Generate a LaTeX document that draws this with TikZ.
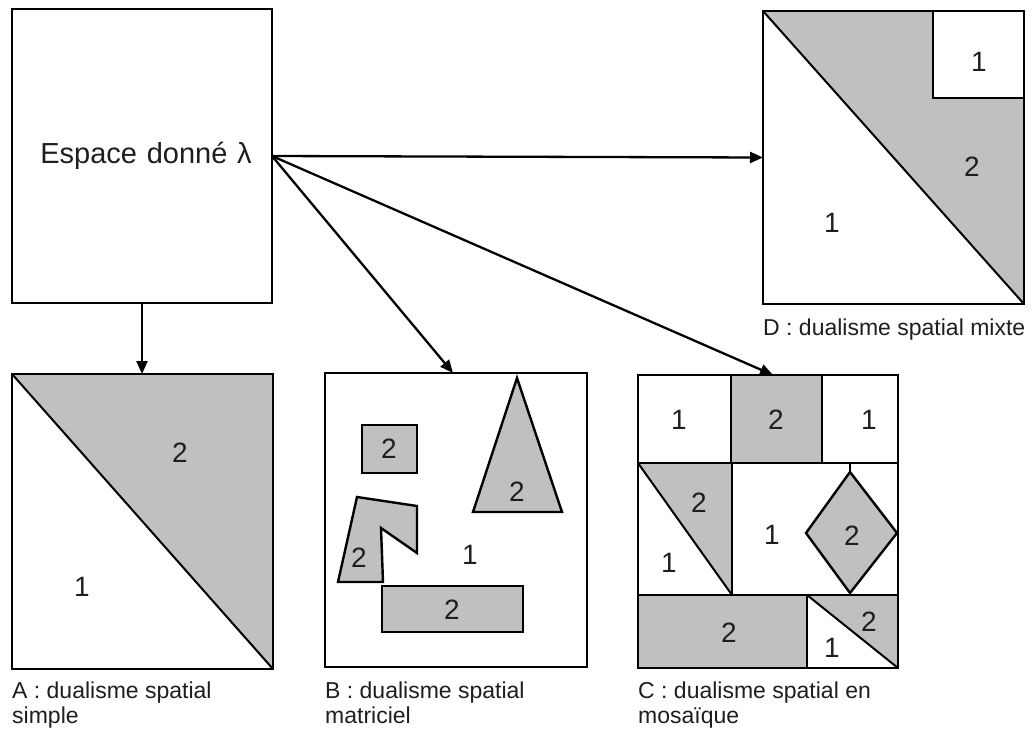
\documentclass[tikz,border=0pt]{standalone}
\usepackage{fontspec}
\setmainfont{Liberation Sans}
\usetikzlibrary{arrows.meta}
\definecolor{zgrey}{RGB}{192,192,192}
\definecolor{txt}{RGB}{30,30,30}
\begin{document}
\begin{tikzpicture}[x=1pt,y=-1pt,
 frame/.style={draw=black,line width=2.8pt,inner sep=0pt,outer sep=0pt},
 piece/.style={draw=black,line width=2.4pt,line join=miter},
 thinline/.style={draw=black,line width=2pt},
 zone/.style={fill=zgrey},
 num/.style={font=\fontsize{28}{28}\selectfont,text=txt,inner sep=0pt},
 legend/.style={font=\fontsize{23}{25}\selectfont,text=txt,anchor=north west,align=left,inner sep=0pt},
 link/.style={line width=2.3pt,-{Triangle[length=13pt,width=11pt]}}]
\useasboundingbox (0,0) rectangle (1034,729);

% source box
\node[frame,minimum width=260pt,minimum height=294pt,font=\fontsize{29}{29}\selectfont,text=txt,text width=250pt,align=center] (main) at (142,156) {\hspace*{8pt}Espace donné λ};

% ---------- Panel A ----------
\fill[zone] (12,374) -- (273,374) -- (273,669) -- cycle;
\draw[thinline] (12,374) -- (273,669);
\node[frame,minimum width=261pt,minimum height=295pt] (pA) at (142.5,521.5) {};
\node[num] (a2) at (180,453) {2};
\node[num] (a1) at (82,587) {1};
\node[legend] (capA) at (12,682) {A : dualisme spatial\\simple};

% ---------- Panel B ----------
\node[frame,minimum width=262pt,minimum height=294pt] (pB) at (456,520) {};
\draw[piece,zone] (362,425) rectangle (417,473);
\node[num] (b2a) at (389,449) {2};
\draw[piece,zone] (517,378) -- (562,512) -- (473,512) -- cycle;
\node[num] (b2b) at (517,492) {2};
\draw[piece,zone] (357,497) -- (417,506) -- (417,553) -- (381,528) -- (383,582) -- (338,582) -- cycle;
\node[num] (b2c) at (359,558) {2};
\draw[piece,zone] (382,586) rectangle (523,632);
\node[num] (b2d) at (452,610) {2};
\node[num] (b1) at (470,555) {1};
\node[legend] (capB) at (325,682) {B : dualisme spatial\\matriciel};

% ---------- Panel C ----------
\fill[zone] (731,375) rectangle (822,463);
\fill[zone] (638,463) -- (732,463) -- (732,595) -- cycle;
\fill[zone] (638,595) rectangle (807,668);
\fill[zone] (807,595) -- (898,595) -- (898,668) -- cycle;
\draw[piece] (638,463) -- (898,463);
\draw[piece] (638,595) -- (898,595);
\draw[piece] (731,375) -- (731,463);
\draw[piece] (822,375) -- (822,463);
\draw[piece] (732,463) -- (732,595);
\draw[piece] (807,595) -- (807,668);
\draw[thinline] (638,463) -- (732,595);
\draw[thinline] (807,595) -- (898,668);
\draw[thinline] (850,463) -- (850,472);
\draw[piece,zone] (850,472) -- (897,533) -- (850,593) -- (806,533) -- cycle;
\node[frame,minimum width=260pt,minimum height=293pt] (pC) at (768,521.5) {};
\node[num] (c1a) at (679,420) {1};
\node[num] (c2a) at (776,420) {2};
\node[num] (c1b) at (869,420) {1};
\node[num] (c2b) at (699,503) {2};
\node[num] (c1c) at (669,563) {1};
\node[num] (c1d) at (772,535) {1};
\node[num] (c2c) at (852,536) {2};
\node[num] (c2d) at (729,633) {2};
\node[num] (c2e) at (869,622) {2};
\node[num] (c1e) at (832,648) {1};
\node[legend] (capC) at (638,682) {C : dualisme spatial en\\mosaïque};

% ---------- Panel D ----------
\fill[zone] (763,11) -- (1024,11) -- (1024,304) -- cycle;
\draw[piece,fill=white] (933,11) rectangle (1024,98);
\draw[thinline] (763,11) -- (1024,304);
\node[frame,minimum width=261pt,minimum height=293pt] (pD) at (893.5,157.5) {};
\node[num] (d1a) at (979,62) {1};
\node[num] (d2) at (972,167) {2};
\node[num] (d1b) at (832,223) {1};
\node[legend] (capD) at (763,319) {D : dualisme spatial mixte};

% ---------- connectors ----------
\draw[link] (main.south) -- (main.south |- pA.north);
\draw[link] (main.east) -- (pD.west);
\draw[link] (main.east) -- ([xshift=-3pt]pB.north);
\draw[link] (main.east) -- ([xshift=5pt]pC.north);
\end{tikzpicture}
\end{document}
